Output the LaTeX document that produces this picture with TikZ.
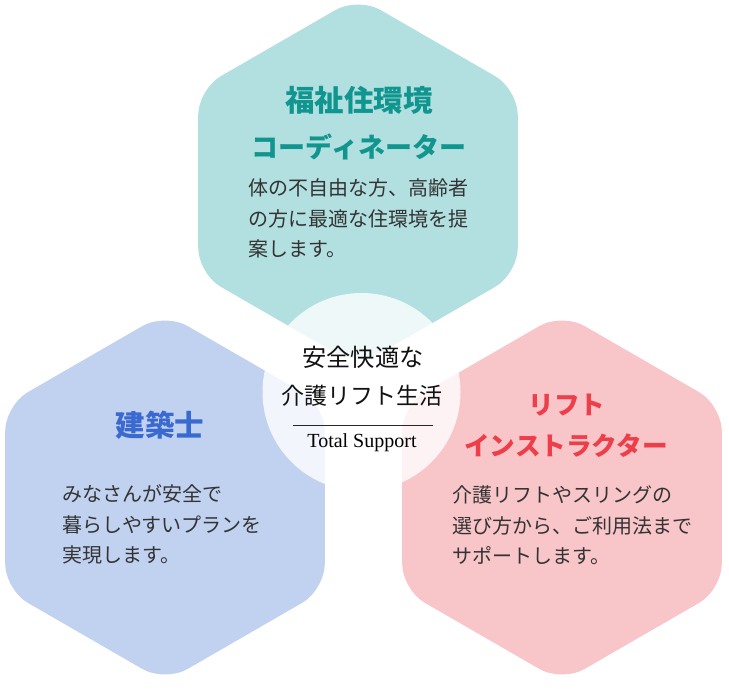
\documentclass[tikz,border=0pt]{standalone}
\usepackage{fontspec}
\setmainfont{Liberation Serif}
\newfontfamily\jp{Noto Sans CJK JP}
\definecolor{tealbg}{HTML}{B2DFE0}
\definecolor{bluebg}{HTML}{C1D1F0}
\definecolor{pinkbg}{HTML}{F8C5C9}
\definecolor{tealtx}{HTML}{11968F}
\definecolor{bluetx}{HTML}{3A6AD0}
\definecolor{redtx}{HTML}{EE3E4A}
\definecolor{bodytx}{HTML}{333333}
\tikzset{
  hexa/.pic={\path[pic actions, rounded corners=26pt]
    (0,-184.5) -- (159.8,-92.25) -- (159.8,92.25) -- (0,184.5)
    -- (-159.8,92.25) -- (-159.8,-92.25) -- cycle;},
  ttl/.style={inner sep=0pt, font=\jp\bfseries\fontsize{27}{27}\selectfont},
  ttlk/.style={inner sep=0pt, font=\jp\bfseries\fontsize{29.5}{29.5}\selectfont},
  ttlr/.style={inner sep=0pt, font=\jp\bfseries\fontsize{25.6}{25.6}\selectfont},
  bodyline/.style={inner sep=0pt, anchor=west, text=bodytx, font=\jp\fontsize{20}{30}\selectfont},
  centerline/.style={inner sep=0pt, text=black!93, font=\jp\fontsize{23}{23}\selectfont}
}
\begin{document}
\begin{tikzpicture}[x=1pt,y=-1pt]
\useasboundingbox (0,0) rectangle (729,689);
\pic[fill=tealbg] at (358,181.5) {hexa};
\pic[fill=bluebg] at (165,497.5) {hexa};
\pic[fill=pinkbg] at (562,497.5) {hexa};
\fill[white, fill opacity=0.8] (361.5,392) circle (99pt);
% top
\node[ttlk, text=tealtx] (t1) at (359,100) {福祉住環境};
\node[ttl, text=tealtx] (t2) at (359,147) {コーディネーター};
\node[bodyline] (tb1) at (248,188) {体の不自由な方、高齢者};
\node[bodyline] (tb2) at (248,218.5) {の方に最適な住環境を提};
\node[bodyline] (tb3) at (248,249) {案します。};
% left
\node[ttlk, text=bluetx] (l1) at (160,425) {建築士};
\node[bodyline] (lb1) at (62,494) {みなさんが安全で};
\node[bodyline] (lb2) at (62,524.5) {暮らしやすいプランを};
\node[bodyline] (lb3) at (62,555) {実現します。};
% right
\node[ttlr, text=redtx] (r1) at (567,405) {リフト};
\node[ttlr, text=redtx] (r2) at (566,446) {インストラクター};
\node[bodyline] (rb1) at (452,495) {介護リフトやスリングの};
\node[bodyline] (rb2) at (452,525.5) {選び方から、ご利用法まで};
\node[bodyline] (rb3) at (452,556) {サポートします。};
% center
\node[centerline, font=\jp\fontsize{24.2}{24.2}\selectfont] (c1) at (363,357) {安全快適な};
\node[centerline] (c2) at (362,396) {介護リフト生活};
\coordinate (la) at (293,425);
\coordinate (lb) at (433,425);
\draw[line width=1pt, black!85] (la) -- (lb);
\node[inner sep=0pt, font=\fontsize{20}{20}\selectfont] (c3) at (362,443) {Total Support};
\end{tikzpicture}
\end{document}
